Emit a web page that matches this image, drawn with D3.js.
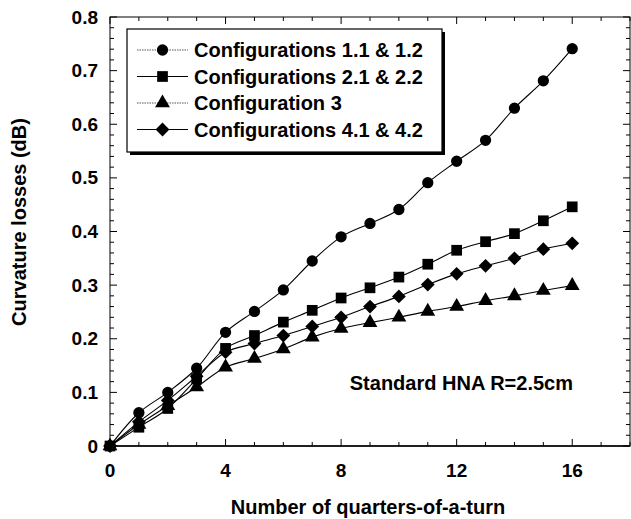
<!DOCTYPE html>
<html><head><meta charset="utf-8">
<script src="https://cdn.jsdelivr.net/npm/d3@7"></script>
<style>
html,body{margin:0;padding:0;background:#fff;}
text{font-family:"Liberation Sans",Arial,sans-serif;font-weight:bold;fill:#000;}
</style></head>
<body>
<svg id="chart" width="631" height="519"></svg>
<script>
const quarters = [0,1,2,3,4,5,6,7,8,9,10,11,12,13,14,15,16];
const config1 = [0,0.062,0.100,0.145,0.212,0.251,0.291,0.345,0.390,0.415,0.441,0.491,0.531,0.570,0.630,0.681,0.741];
const config2 = [0,0.035,0.070,0.125,0.182,0.206,0.231,0.253,0.276,0.295,0.315,0.339,0.365,0.381,0.396,0.420,0.446];
const config3 = [0,0.040,0.075,0.110,0.147,0.163,0.181,0.203,0.219,0.230,0.240,0.251,0.260,0.271,0.280,0.290,0.299];
const config4 = [0,0.045,0.085,0.130,0.175,0.191,0.206,0.223,0.240,0.260,0.279,0.301,0.321,0.336,0.350,0.367,0.378];
const seriesNames = ["Configurations 1.1 & 1.2","Configurations 2.1 & 2.2","Configuration 3","Configurations 4.1 & 4.2"];
const xTickValues = [0,4,8,12,16];
const yTickValues = [0,0.1,0.2,0.3,0.4,0.5,0.6,0.7,0.8];
const xTitle = "Number of quarters-of-a-turn";
const yTitle = "Curvature losses (dB)";
const note = "Standard HNA R=2.5cm";

const svg = d3.select("#chart");
const L = 110, R = 630, T = 17, B = 446;
const x = d3.scaleLinear().domain([0,18]).range([L,R]);
const y = d3.scaleLinear().domain([0,0.8]).range([B,T]);

const seriesData = [config1,config2,config3,config4];
const shapes = ["circle","square","triangle","diamond"];

function symbolPath(shape){
  if(shape==="circle") return d3.symbol(d3.symbolCircle, 100)();
  if(shape==="square") return d3.symbol(d3.symbolSquare, 115)();
  if(shape==="triangle") return d3.symbol(d3.symbolTriangle, 95)();
  return d3.symbol(d3.symbolSquare, 95)();
}
function symTransform(shape, px, py){
  return shape==="diamond" ? `translate(${px},${py}) rotate(45)` : `translate(${px},${py})`;
}

// frame
svg.append("rect").attr("x",L).attr("y",T).attr("width",R-L).attr("height",B-T)
  .attr("fill","none").attr("stroke","#000").attr("stroke-width",1);
// bottom axis heavier
svg.append("line").attr("x1",L).attr("x2",R).attr("y1",B).attr("y2",B).attr("stroke","#000").attr("stroke-width",1.6);

// ticks
const g = svg.append("g").attr("stroke","#000").attr("stroke-width",1);
d3.range(0,19,1).forEach(v=>{
  const major = v%4===0;
  const len = major?7:4;
  g.append("line").attr("x1",x(v)).attr("x2",x(v)).attr("y1",B).attr("y2",B-len);
  g.append("line").attr("x1",x(v)).attr("x2",x(v)).attr("y1",T).attr("y2",T+len);
});
d3.range(0,41,1).forEach(i=>{
  const v = i*0.02;
  const major = i%5===0;
  const len = major?7:4;
  g.append("line").attr("x1",L).attr("x2",L+len).attr("y1",y(v)).attr("y2",y(v));
  g.append("line").attr("x1",R).attr("x2",R-len).attr("y1",y(v)).attr("y2",y(v));
});

// tick labels
svg.append("g").selectAll("text").data(xTickValues).join("text")
  .attr("x",d=>x(d)).attr("y",477).attr("text-anchor","middle").attr("font-size",19).text(d=>d);
svg.append("g").selectAll("text").data(yTickValues).join("text")
  .attr("x",98).attr("y",d=>y(d)+6.5).attr("text-anchor","end").attr("font-size",19)
  .text(d=>d===0?"0":d.toFixed(1));

// titles
svg.append("text").attr("x",368).attr("y",514).attr("text-anchor","middle").attr("font-size",20).text(xTitle);
svg.append("text").attr("transform","translate(26,222) rotate(-90)").attr("text-anchor","middle").attr("font-size",20).text(yTitle);

// lines
const line = d3.line().x((d,i)=>x(quarters[i])).y(d=>y(d)).curve(d3.curveCatmullRom.alpha(0.5));
seriesData.forEach((s,k)=>{
  svg.append("path").attr("d",line(s)).attr("fill","none").attr("stroke","#000").attr("stroke-width",1.1);
});
seriesData.forEach((s,k)=>{
  svg.append("g").selectAll("path").data(s).join("path")
    .attr("d",symbolPath(shapes[k]))
    .attr("transform",(d,i)=>symTransform(shapes[k], x(quarters[i]), y(d)))
    .attr("fill","#000");
});

// note
svg.append("text").attr("x",573).attr("y",390).attr("text-anchor","end").attr("font-size",20).text(note);

// legend
const lg = svg.append("g");
lg.append("rect").attr("x",130).attr("y",32).attr("width",315).attr("height",123).attr("fill","#000");
lg.append("rect").attr("x",127).attr("y",29).attr("width",315).attr("height",123).attr("fill","#fff").attr("stroke","#000").attr("stroke-width",1.2);
const rowY = [50,76.5,103,129.5];
seriesNames.forEach((n,k)=>{
  const ry = rowY[k];
  lg.append("line").attr("x1",137).attr("x2",188).attr("y1",ry).attr("y2",ry)
    .attr("stroke", k%2===0 ? "#555" : "#000").attr("stroke-width",1)
    .attr("stroke-dasharray", k%2===0 ? "1.5,1" : null);
  lg.append("path").attr("d",symbolPath(shapes[k])).attr("transform",symTransform(shapes[k],162.5,ry)).attr("fill","#000");
  lg.append("text").attr("x",194).attr("y",ry+7).attr("font-size",20).text(n);
});
</script>
</body></html>
